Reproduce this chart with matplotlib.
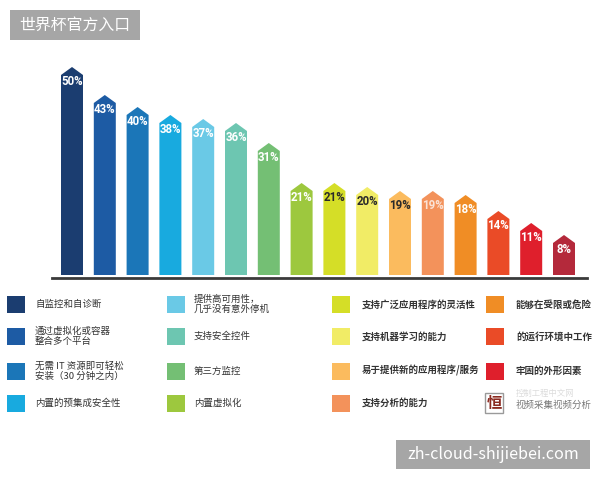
"""Arrow-shaped bar chart with a four-column legend underneath."""

import matplotlib
matplotlib.use("Agg")
import matplotlib.pyplot as plt
from matplotlib.patches import Polygon, Rectangle

plt.rcParams["font.family"] = ["Noto Sans CJK SC", "DejaVu Sans"]

values = [50, 43, 40, 38, 37, 36, 31, 21, 21, 20, 19, 19, 18, 14, 11, 8]
bar_colors = [
    "#1b3d70", "#1d5ba4", "#1b76b8", "#18aadf", "#6ac9e6", "#6dc6b1",
    "#74bf74", "#9dc83e", "#d5de27", "#f1ec66", "#fbbb5e", "#f3925b",
    "#f08d25", "#ea4b27", "#df1f2c", "#b4293b",
]
label_colors = [
    "white", "white", "white", "white", "white", "white", "white", "white",
    "#2a2a2a", "#2a2a2a", "#2a2a2a", "#fbe3d6", "white", "white", "white", "white",
]
legend_labels = [
    "自监控和自诊断", "通过虚拟化或容器\n整合多个平台", "无需 IT 资源即可轻松\n安装（30 分钟之内）", "内置的预集成安全性",
    "提供高可用性，\n几乎没有意外停机", "支持安全控件", "第三方监控", "内置虚拟化",
    "支持广泛应用程序的灵活性", "支持机器学习的能力", "易于提供新的应用程序/服务", "支持分析的能力",
    "能够在受限或危险", "的运行环境中工作", "牢固的外形因素",
]

W, H = 600, 480
fig = plt.figure(figsize=(6, 4.8), dpi=100)


def fx(x):
    return x / W


def fy(y):
    return 1 - y / H


# bar area: 4 px per percent, baseline at y=278 px
px_per_unit = 4.0
step = 32.8
left_px, right_px, base_px, top_px = 52, 587, 278, 60
x0 = 72
ax = fig.add_axes([fx(left_px), fy(base_px), (right_px - left_px) / W, (base_px - top_px) / H])
ax.set_xlim(-(x0 - left_px) / step, (right_px - x0) / step)
ax.set_ylim(-3 / px_per_unit, -3 / px_per_unit + (base_px - top_px) / px_per_unit)
for s in ["top", "right", "left"]:
    ax.spines[s].set_visible(False)
ax.spines["bottom"].set_linewidth(2)
ax.spines["bottom"].set_color("#3a3a3a")
ax.set_xticks([])
ax.set_yticks([])

half = 11 / step
tip = 8 / px_per_unit
for i, (v, c) in enumerate(zip(values, bar_colors)):
    pts = [(i - half, 0), (i - half, v), (i, v + tip), (i + half, v), (i + half, 0)]
    ax.add_patch(Polygon(pts, closed=True, facecolor=c, edgecolor="none"))
    ax.text(i, v - 1.6, f"{v}%", ha="center", va="center", fontsize=8.3,
            fontweight="bold", family="Roboto", color=label_colors[i])

# legend
col_sw = [7, 167, 332, 486]
col_tx = [35, 194, 362, 516]
row_cy = [304.5, 336.5, 371, 403]
for k, (lab, c) in enumerate(zip(legend_labels, bar_colors)):
    col, row = divmod(k, 4)
    fig.add_artist(Rectangle((fx(col_sw[col]), fy(row_cy[row] + 8.5)), 18 / W, 17 / H,
                             transform=fig.transFigure, facecolor=c, edgecolor="none"))
    fig.text(fx(col_tx[col]), fy(row_cy[row]), lab, ha="left", va="center",
             fontsize=6.8, color="#333333", linespacing=1.1,
             fontweight="bold" if col >= 2 else "normal")

# watermark logo in the last legend slot
fig.text(fx(494), fy(403), "恒", ha="center", va="center", fontsize=11,
         color="#8b2a20", fontweight="bold",
         bbox=dict(boxstyle="square,pad=0.1", facecolor="white", edgecolor="#9a9a9a", lw=1))
fig.text(fx(516), fy(393), "控制工程中文网", ha="left", va="center", fontsize=6, color="#dcdcdc")
fig.text(fx(516), fy(405), "视频采集视频分析", ha="left", va="center", fontsize=6.8, color="#777777")

# header and footer badges
fig.add_artist(Rectangle((fx(10), fy(40)), 130 / W, 30 / H, transform=fig.transFigure,
                         facecolor="#a6a6a6", edgecolor="none"))
fig.text(fx(75), fy(25), "世界杯官方入口", ha="center", va="center", fontsize=11.4, color="white")
fig.add_artist(Rectangle((fx(396), fy(469)), 194 / W, 29 / H, transform=fig.transFigure,
                         facecolor="#a6a6a6", edgecolor="none"))
fig.text(fx(493), fy(454.5), "zh-cloud-shijiebei.com", ha="center", va="center",
         fontsize=11.6, color="white")

fig.savefig("out.png", dpi=100, facecolor="white")
